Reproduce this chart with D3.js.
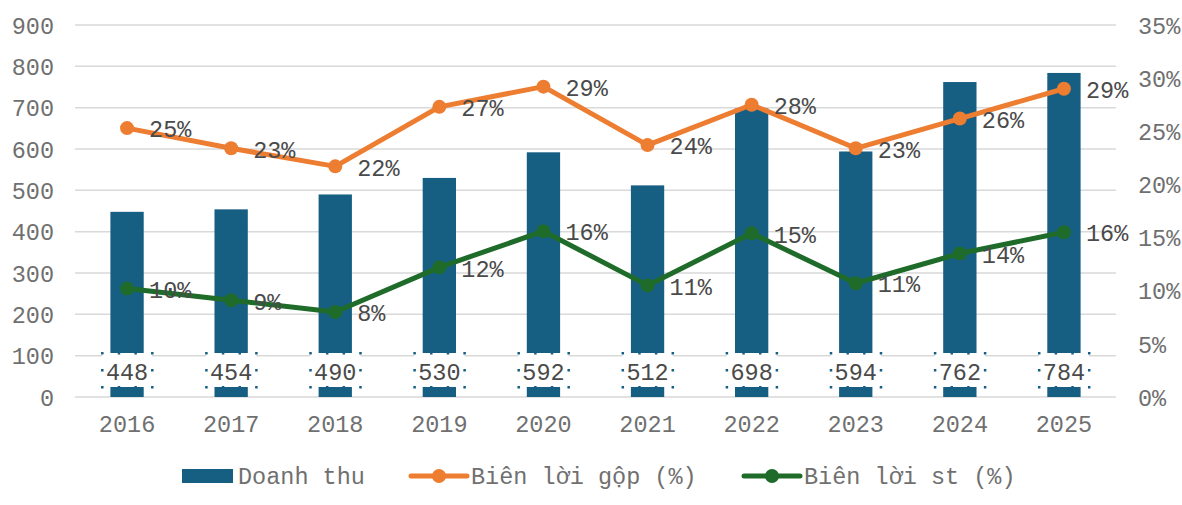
<!DOCTYPE html>
<html>
<head>
<meta charset="utf-8">
<script src="https://cdn.jsdelivr.net/npm/d3@7"></script>
<style>
  body { margin: 0; background: #fff; }
  svg text { font-family: "Liberation Mono", "Courier New", monospace; }
</style>
</head>
<body>
<div id="chart"></div>
<script>
// data
var years = ["2016", "2017", "2018", "2019", "2020", "2021", "2022", "2023", "2024", "2025"];
var revenue = [448, 454, 490, 530, 592, 512, 698, 594, 762, 784];
var grossMargin = [25.3, 23.4, 21.7, 27.3, 29.2, 23.7, 27.5, 23.4, 26.2, 29.0];
var netMargin = [10.2, 9.1, 8.0, 12.2, 15.6, 10.5, 15.4, 10.7, 13.5, 15.5];
var leftTicks = [0, 100, 200, 300, 400, 500, 600, 700, 800, 900];
var rightTicks = [0, 5, 10, 15, 20, 25, 30, 35];

var svgWidth = 1182;
var svgHeight = 505;
var barColor = "#175e83";
var orange = "#ed7d31";
var green = "#1e6b2a";
var axisText = "#707070";
var labelText = "#4a4a4a";
var fontSize = "23.5px";

var svg = d3.select("#chart")
            .append("svg")
            .attr("width", svgWidth)
            .attr("height", svgHeight);

var x = d3.scaleBand().domain(years).range([75, 1116]);
var y = d3.scaleLinear().domain([0, 900]).range([397, 25]);
var y2 = d3.scaleLinear().domain([0, 35]).range([397, 25]);

// grid lines
svg.selectAll("line.grid")
   .data(leftTicks)
   .enter()
   .append("line")
   .attr("x1", 75)
   .attr("x2", 1116)
   .attr("y1", function(d) { return y(d); })
   .attr("y2", function(d) { return y(d); })
   .attr("stroke", "#d9d9d9")
   .attr("stroke-width", 1.5);

// left axis
var leftAxis = svg.append("g")
   .attr("transform", "translate(60,0)")
   .call(d3.axisLeft(y).tickValues(leftTicks).tickSize(0).tickPadding(6));
leftAxis.select(".domain").remove();
leftAxis.selectAll("text")
   .attr("font-size", fontSize)
   .attr("fill", axisText)
   .attr("dy", "0.35em");

// right axis
var rightAxis = svg.append("g")
   .attr("transform", "translate(1132,0)")
   .call(d3.axisRight(y2).tickValues(rightTicks).tickSize(0).tickPadding(6)
          .tickFormat(function(d) { return d + "%"; }));
rightAxis.select(".domain").remove();
rightAxis.selectAll("text")
   .attr("font-size", fontSize)
   .attr("fill", axisText)
   .attr("dy", "0.35em");

// bottom axis
var bottomAxis = svg.append("g")
   .attr("transform", "translate(0,397)")
   .call(d3.axisBottom(x).tickSize(0).tickPadding(18));
bottomAxis.select(".domain").remove();
bottomAxis.selectAll("text")
   .attr("font-size", fontSize)
   .attr("fill", axisText);

// bars
var barW = x.bandwidth() * 0.32;
svg.selectAll("rect.bar")
   .data(revenue)
   .enter()
   .append("rect")
   .attr("class", "bar")
   .attr("x", function(d, i) { return x(years[i]) + x.bandwidth() / 2 - barW / 2; })
   .attr("y", function(d) { return y(d); })
   .attr("width", barW)
   .attr("height", function(d) { return y(0) - y(d); })
   .attr("fill", barColor);

// bar labels with selection boxes
var boxW = 50, boxH = 34, boxY = 353;
revenue.forEach(function(d, i) {
  var cx = x(years[i]) + x.bandwidth() / 2;
  var g = svg.append("g");
  g.append("rect")
   .attr("x", cx - boxW / 2)
   .attr("y", boxY)
   .attr("width", boxW)
   .attr("height", boxH)
   .attr("fill", "#fff");
  var dots = [];
  [0, 1 / 3, 2 / 3, 1].forEach(function(f) {
    dots.push([cx - boxW / 2 + f * boxW, boxY]);
    dots.push([cx - boxW / 2 + f * boxW, boxY + boxH]);
  });
  dots.push([cx - boxW / 2, boxY + boxH / 2]);
  dots.push([cx + boxW / 2, boxY + boxH / 2]);
  g.selectAll("rect.dot")
   .data(dots)
   .enter()
   .append("rect")
   .attr("x", function(p) { return p[0] - 1; })
   .attr("y", function(p) { return p[1] - 1; })
   .attr("width", 2.5)
   .attr("height", 2.5)
   .attr("fill", barColor);
  g.append("text")
   .attr("x", cx)
   .attr("y", boxY + boxH / 2 + 2)
   .attr("dy", "0.35em")
   .attr("text-anchor", "middle")
   .attr("font-size", fontSize)
   .attr("fill", labelText)
   .text(d);
});

// lines
function drawSeries(values, color) {
  var line = d3.line()
    .x(function(d, i) { return x(years[i]) + x.bandwidth() / 2; })
    .y(function(d) { return y2(d); });
  svg.append("path")
     .datum(values)
     .attr("d", line)
     .attr("fill", "none")
     .attr("stroke", color)
     .attr("stroke-width", 5)
     .attr("stroke-linejoin", "round");
  svg.selectAll(null)
     .data(values)
     .enter()
     .append("circle")
     .attr("cx", function(d, i) { return x(years[i]) + x.bandwidth() / 2; })
     .attr("cy", function(d) { return y2(d); })
     .attr("r", 7)
     .attr("fill", color);
  svg.selectAll(null)
     .data(values)
     .enter()
     .append("text")
     .attr("x", function(d, i) { return x(years[i]) + x.bandwidth() / 2 + 22; })
     .attr("y", function(d) { return y2(d) + 1; })
     .attr("dy", "0.35em")
     .attr("font-size", fontSize)
     .attr("fill", labelText)
     .text(function(d) { return Math.round(d) + "%"; });
}
drawSeries(grossMargin, orange);
drawSeries(netMargin, green);

// legend
var legend = svg.append("g");
legend.append("rect")
  .attr("x", 182).attr("y", 469).attr("width", 51).attr("height", 14)
  .attr("fill", barColor);
legend.append("text")
  .attr("x", 238).attr("y", 476).attr("dy", "0.35em")
  .attr("font-size", fontSize).attr("fill", axisText)
  .text("Doanh thu");

[[411, orange, "Biên lời gộp (%)"], [744, green, "Biên lời st (%)"]].forEach(function(item) {
  legend.append("line")
    .attr("x1", item[0]).attr("x2", item[0] + 56)
    .attr("y1", 476).attr("y2", 476)
    .attr("stroke", item[1]).attr("stroke-width", 5)
    .attr("stroke-linecap", "round");
  legend.append("circle")
    .attr("cx", item[0] + 28).attr("cy", 476).attr("r", 7)
    .attr("fill", item[1]);
  legend.append("text")
    .attr("x", item[0] + 60).attr("y", 476).attr("dy", "0.35em")
    .attr("font-size", fontSize).attr("fill", axisText)
    .text(item[2]);
});
</script>
</body>
</html>
